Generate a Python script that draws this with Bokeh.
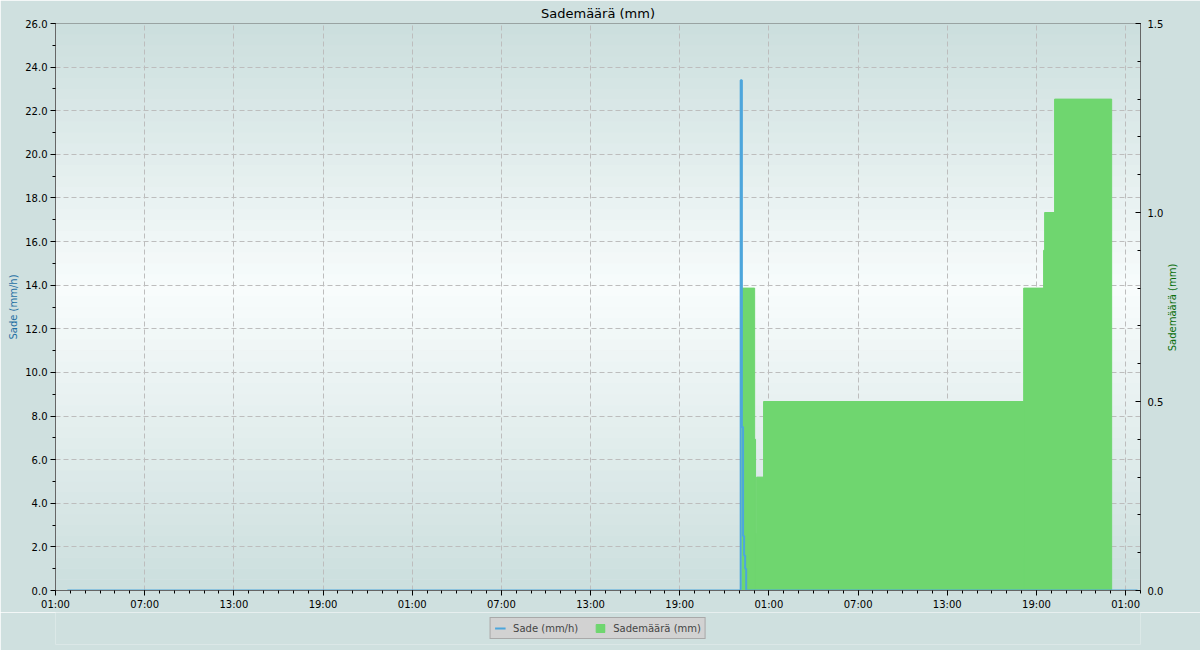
import math
from bokeh.plotting import figure
from bokeh.layouts import column
from bokeh.models import (Range1d, LinearAxis, FixedTicker, PrintfTickFormatter,
                          Legend, LegendItem, Label)
from bokeh.embed import file_html
from bokeh.resources import INLINE

# Time axis: hours after 01:00 on the first day
x_tick_hours = [0, 6, 12, 18, 24, 30, 36, 42, 48, 54, 60, 66, 72]
x_tick_labels = ["01:00", "07:00", "13:00", "19:00", "01:00", "07:00", "13:00",
                 "19:00", "01:00", "07:00", "13:00", "19:00", "01:00"]
x_minor_hours = list(range(0, 74))

# Sade (mm/h) - step series
sade_hours = [0.8, 46.10, 46.18, 46.26, 46.33, 46.40, 46.47, 72.8]
sade_values = [0.0, 23.4, 7.5, 2.5, 1.6, 1.0, 0.0, 0.0]

# Sademäärä (mm) - blocks
maara_start = [46.18, 47.04, 47.10, 47.17, 47.64, 65.14, 66.48, 66.55, 67.22]
maara_end = [47.04, 47.10, 47.17, 47.64, 65.14, 66.48, 66.55, 67.22, 71.06]
maara_values = [0.8, 0.4, 0.15, 0.3, 0.5, 0.8, 0.9, 1.0, 1.3]

left_ticks = [0, 2, 4, 6, 8, 10, 12, 14, 16, 18, 20, 22, 24, 26]
left_minor = list(range(0, 27))
right_ticks = [0.0, 0.5, 1.0, 1.5]
right_minor = [i / 10 for i in range(0, 16)]

FONT = "DejaVu Sans"
BLUE = "#4da6dc"
GREEN = "#6fd66f"
BORDER = "#cfe0df"
W = 1200
X0, X1, Y0, Y1 = 0, 73, 0, 26

p = figure(width=W, height=611, frame_width=1085, frame_height=567,
           output_backend="svg", toolbar_location=None,
           x_range=Range1d(X0, X1), y_range=Range1d(Y0, Y1),
           title="Sademäärä (mm)",
           min_border_left=55, min_border_right=60, min_border_top=22,
           min_border_bottom=22)
p.extra_y_ranges = {"maara": Range1d(0, 1.5)}

p.border_fill_color = BORDER
p.background_fill_color = "#e6f0f0"
p.outline_line_color = "#666666"
p.outline_line_width = 1

# Vertical background gradient inside the plot area (decoration only)
def _mix(c1, c2, t):
    return "#%02x%02x%02x" % tuple(int(round(a + (b - a) * t)) for a, b in zip(c1, c2))

EDGE = (203, 222, 221)
MID = (248, 252, 252)
NB = 52
g_bottom, g_top, g_col = [], [], []
for i in range(NB):
    b = Y0 + (Y1 - Y0) * i / NB
    t_ = Y0 + (Y1 - Y0) * (i + 1) / NB
    frac_from_top = 1 - ((b + t_) / 2 - Y0) / (Y1 - Y0)
    k = frac_from_top / 0.47 if frac_from_top < 0.47 else (1 - frac_from_top) / 0.53
    g_bottom.append(b)
    g_top.append(t_ + 0.02)
    g_col.append(_mix(EDGE, MID, k))
p.quad(left=X0, right=X1, bottom=g_bottom, top=g_top, fill_color=g_col,
       line_alpha=0, level="image")

p.title.text_font = FONT
p.title.text_font_size = "13px"
p.title.text_font_style = "normal"
p.title.text_color = "#000000"
p.title.align = "center"
p.title.standoff = 6
p.title.offset = 0

# Grid
for g in (p.xgrid, p.ygrid):
    g.grid_line_color = "#bdbdbd"
    g.grid_line_dash = "5 3"
    g.grid_line_width = 1

# X axis
xa = p.xaxis[0]
xa.ticker = FixedTicker(ticks=x_tick_hours, minor_ticks=x_minor_hours)
xa.major_label_overrides = {h: lab for h, lab in zip(x_tick_hours, x_tick_labels)}

# Left axis
ya = p.yaxis[0]
ya.ticker = FixedTicker(ticks=left_ticks, minor_ticks=left_minor)
ya.formatter = PrintfTickFormatter(format="%.1f")
ya.axis_label = "Sade (mm/h)"
ya.axis_label_text_color = "#1f6fa3"

# Right axis (its title is drawn as a rotated label in the right margin)
ra = LinearAxis(y_range_name="maara")
ra.ticker = FixedTicker(ticks=right_ticks, minor_ticks=right_minor)
ra.formatter = PrintfTickFormatter(format="%.1f")
p.add_layout(ra, "right")

right_title = Label(x=1172, y=307, x_units="canvas", y_units="canvas",
                    text="Sademäärä (mm)", angle=math.pi / 2,
                    text_align="center", text_baseline="middle",
                    text_font=FONT, text_font_size="10px",
                    text_color="#0b6e0b")
p.add_layout(right_title, "right")

for ax in (xa, ya, ra):
    ax.axis_line_color = "#666666"
    ax.major_tick_line_color = "#000000"
    ax.minor_tick_line_color = "#000000"
    ax.major_label_text_font = FONT
    ax.major_label_text_font_size = "10px"
    ax.major_label_text_color = "#000000"
    ax.axis_label_text_font = FONT
    ax.axis_label_text_font_size = "10px"
    ax.axis_label_text_font_style = "normal"
    ax.major_tick_out = 5
    ax.major_tick_in = 0
    ax.minor_tick_out = 3
    ax.minor_tick_in = 0
    ax.major_label_standoff = 3
    ax.axis_label_standoff = 3

ra.major_tick_out = 0
ra.major_tick_in = 5
ra.minor_tick_out = 0
ra.minor_tick_in = 3
ra.major_label_standoff = 7

# Data
green_style = dict(fill_color=GREEN, line_color=GREEN, line_width=1)
blue_style = dict(line_color=BLUE, line_width=2)
p.quad(left=maara_start, right=maara_end, bottom=0, top=maara_values,
       y_range_name="maara", **green_style)
p.step(sade_hours, sade_values, mode="after", **blue_style)

# Legend strip below the chart (same series, same styles; its view range
# lies outside the data so that only the legend is shown)
lf = figure(width=W, height=39, output_backend="svg", toolbar_location=None,
            x_axis_location=None, y_axis_location=None,
            x_range=Range1d(-10, -9), y_range=Range1d(-10, -9),
            min_border_left=0, min_border_right=0, min_border_top=0,
            min_border_bottom=7)
lf.border_fill_color = BORDER
lf.background_fill_color = BORDER
lf.outline_line_color = None
lf.grid.visible = False
lg_blue = lf.step(sade_hours, sade_values, mode="after", **blue_style)
lg_green = lf.quad(left=maara_start, right=maara_end, bottom=0,
                   top=maara_values, **green_style)

legend = Legend(items=[LegendItem(label="Sade (mm/h)", renderers=[lg_blue]),
                       LegendItem(label="Sademäärä (mm)", renderers=[lg_green])],
                orientation="horizontal", location="center")
legend.label_text_font = FONT
legend.label_text_font_size = "10px"
legend.label_height = 12
legend.label_standoff = 8
legend.glyph_width = 11
legend.glyph_height = 10
legend.padding = 4
legend.spacing = 16
legend.margin = 0
legend.background_fill_color = "#d2d2d2"
legend.background_fill_alpha = 1.0
legend.border_line_color = "#808080"
legend.border_line_width = 1
lf.add_layout(legend, "center")

layout = column(p, lf, spacing=0)

html = file_html(layout, INLINE, title="Sademäärä (mm)")
open("out.html", "w").write(html)
